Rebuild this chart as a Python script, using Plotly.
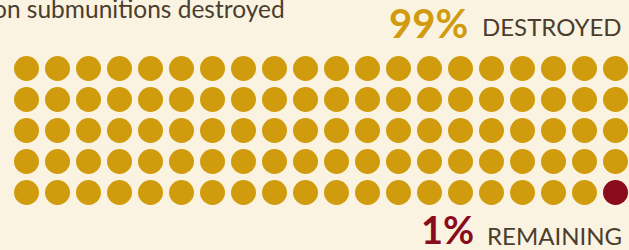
import plotly.graph_objects as go

# Data
categories = ["Destroyed", "Remaining"]
values = [99, 1]
n_cols = 20
n_rows = 5
title_text = "on submunitions destroyed"
pct_labels = ["99%", "1%"]
word_labels = ["DESTROYED", "REMAINING"]

W, H = 629, 250
BG = "#FAF3E2"
GOLD = "#D09C0E"
RED = "#8A0B1B"
BROWN = "#4B3D2D"
colors = [GOLD, RED]

# Build dot positions (row-major)
xs, ys, cs = [], [], []
idx = 0
for cat, val, col in zip(categories, values, colors):
    for _ in range(val):
        r, c = divmod(idx, n_cols)
        xs.append(c)
        ys.append(r)
        cs.append(col)
        idx += 1

fig = go.Figure(go.Scatter(
    x=xs, y=ys, mode="markers",
    marker=dict(size=25, color=cs, line=dict(width=0)),
    hoverinfo="skip",
))

x0px, y0px, step = 26.5, 68.5, 31.0
fig.update_xaxes(visible=False, range=[-x0px / step, (W - x0px) / step], fixedrange=True)
fig.update_yaxes(visible=False, range=[(H - y0px) / step, -y0px / step], fixedrange=True)

def px(x):
    return x / W

def py(y):
    return 1 - y / H

FONT = "Lato"
ann = [
    dict(text=title_text, x=px(-9), y=py(25), xanchor="left", yanchor="bottom",
         font=dict(family=FONT, size=24.5, color=BROWN)),
    dict(text="<b>" + pct_labels[0] + "</b>", x=px(470), y=py(23), xanchor="right", yanchor="middle",
         font=dict(family=FONT, size=40, color=GOLD)),
    dict(text=word_labels[0], x=px(480), y=py(27), xanchor="left", yanchor="middle",
         font=dict(family=FONT, size=24, color=BROWN)),
    dict(text="<b>" + pct_labels[1] + "</b>", x=px(476), y=py(229), xanchor="right", yanchor="middle",
         font=dict(family=FONT, size=38, color=RED)),
    dict(text=word_labels[1], x=px(485), y=py(235), xanchor="left", yanchor="middle",
         font=dict(family=FONT, size=24, color=BROWN)),
]
for a in ann:
    a.update(xref="paper", yref="paper", showarrow=False)

fig.update_layout(
    width=W, height=H,
    margin=dict(l=0, r=0, t=0, b=0),
    paper_bgcolor=BG, plot_bgcolor=BG,
    showlegend=False,
    annotations=ann,
)

fig.write_html(
    "out.html",
    config={"displayModeBar": False, "staticPlot": True},
    post_script="document.body.style.margin='0';document.body.style.overflow='hidden';document.body.style.background='" + BG + "';",
)
